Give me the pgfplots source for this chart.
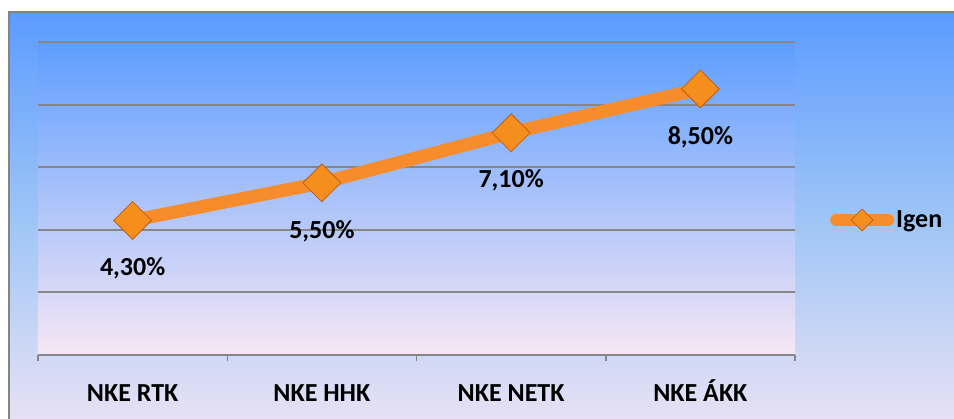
\documentclass[border=0pt]{standalone}
\usepackage{pgfplots}
\pgfplotsset{compat=1.18}
\usepackage{fontspec}
\setmainfont{Carlito}
\definecolor{lineor}{RGB}{246,140,44}
\definecolor{markor}{RGB}{246,142,30}
\definecolor{markdark}{RGB}{190,94,16}
\definecolor{gridgray}{RGB}{134,134,134}
\definecolor{framegray}{RGB}{132,132,132}
\definecolor{bgtop}{RGB}{92,156,255}
\definecolor{bgmid}{RGB}{160,198,246}
\definecolor{bgbot}{RGB}{238,228,244}
\definecolor{patop}{RGB}{94,158,255}
\definecolor{pamid}{RGB}{150,192,248}
\definecolor{pabot}{RGB}{246,231,245}
\begin{document}
\begin{tikzpicture}[x=1pt,y=1pt]
\useasboundingbox (0,0) rectangle (954,419);
\fill[white] (0,0) rectangle (954,419);
\shade[top color=bgtop, bottom color=bgbot, middle color=bgmid] (8,-20) rectangle (970,407);
\draw[framegray, line width=2pt] (9,-20) |- (970,406.5);
\begin{axis}[
  at={(38pt,64pt)}, anchor=south west, scale only axis,
  width=757pt, height=313pt,
  xmin=-0.5, xmax=3.5, ymin=0, ymax=10,
  axis x line*=bottom, axis y line*=left,
  axis line style={-},
  y axis line style={draw=none},
  x axis line style={draw=gridgray, line width=2pt},
  xtick={0,1,2,3},
  xticklabels={NKE RTK, NKE HHK, NKE NETK, NKE ÁKK},
  minor xtick={-0.5,0.5,1.5,2.5,3.5},
  major x tick style={draw=none},
  minor x tick style={draw=gridgray, line width=1.5pt},
  minor tick length=6pt,
  tick align=outside,
  ytick={0,2,...,10}, yticklabels={},
  major y tick style={draw=none},
  ymajorgrids, major grid style={draw=gridgray, line width=2pt},
  xticklabel style={font=\bfseries\fontsize{26}{30}\selectfont, text=black,
    text height=17pt, text depth=0pt, anchor=north, yshift=-22pt},
  axis background/.style={shade, top color=patop, middle color=pamid, bottom color=pabot},
  clip=false,
  legend style={at={(1.0462,0.4313)}, anchor=west, draw=none, fill=none, inner sep=0pt,
    font=\bfseries\fontsize{26}{30}\selectfont, text=black},
  legend image code/.code={
    \draw[lineor, line width=12pt, line cap=round] (6pt,0pt) -- (58pt,0pt);
    \filldraw[fill=markor, draw=markdark, line width=0.8pt] (32pt,-11pt) -- (43pt,0pt) -- (32pt,11pt) -- (21pt,0pt) -- cycle;
  },
]
\addplot[lineor, line width=13pt, mark=square*, mark size=13.4pt,
  mark options={rotate=45, fill=markor, draw=markdark, line width=0.8pt},
  point meta=explicit symbolic,
  nodes near coords={\pgfplotspointmeta\%},
  nodes near coords style={font=\bfseries\fontsize{26}{30}\selectfont, text=black, anchor=center, yshift=-48pt},
] table[meta=lab] {
x y lab
0 4.3 4,30
1 5.5 5,50
2 7.1 7,10
3 8.5 8,50
};
\addlegendentry{Igen}
\end{axis}
\end{tikzpicture}
\end{document}
